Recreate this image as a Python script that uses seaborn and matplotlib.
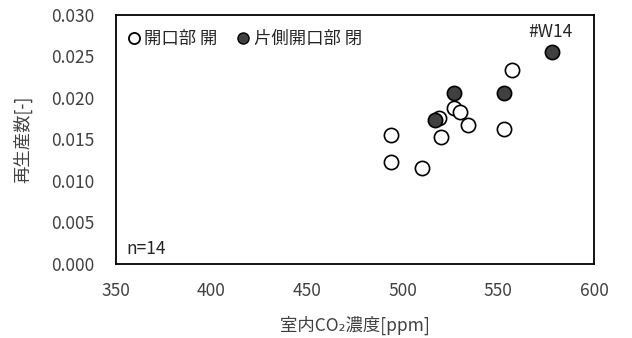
import numpy as np
import pandas as pd
import matplotlib
matplotlib.use("Agg")
import matplotlib.pyplot as plt
import seaborn as sns
from matplotlib.lines import Line2D

# data
open_co2 = [557, 527, 530, 519, 534, 553, 494, 520, 494, 510]
open_r = [0.0234, 0.0188, 0.0183, 0.0176, 0.0167, 0.0163, 0.0155, 0.0153, 0.0123, 0.0115]
closed_co2 = [578, 527, 553, 517]
closed_r = [0.0255, 0.0206, 0.0206, 0.0173]
groups = ["開口部 開", "片側開口部 閉"]

df = pd.concat([
    pd.DataFrame({"co2": open_co2, "r": open_r, "group": groups[0]}),
    pd.DataFrame({"co2": closed_co2, "r": closed_r, "group": groups[1]}),
])

sns.set_style("white")
plt.rcParams['font.family'] = ['Noto Sans CJK JP', 'DejaVu Sans']
fs = 12.5

fig = plt.figure(figsize=(6.32, 3.38), dpi=100)
ax = fig.add_axes([0.183, 0.219, 0.757, 0.737])

sns.scatterplot(data=df[df.group == groups[0]], x="co2", y="r", ax=ax,
                color="white", edgecolor="black", linewidth=1.2, s=105,
                legend=False, zorder=3)
sns.scatterplot(data=df[df.group == groups[1]], x="co2", y="r", ax=ax,
                color="#404040", edgecolor="black", linewidth=1.2, s=105,
                legend=False, zorder=4)

ax.set_xlim(350, 600)
ax.set_ylim(0, 0.030)
ax.set_xticks(np.arange(350, 601, 50))
ax.set_yticks(np.arange(0, 0.0301, 0.005))
ax.set_yticklabels([f"{v:.3f}" for v in np.arange(0, 0.0301, 0.005)])
ax.tick_params(axis="y", length=0, pad=15, labelsize=fs, colors="#404040")
ax.tick_params(axis="x", length=0, pad=13, labelsize=fs, colors="#404040")
for s in ax.spines.values():
    s.set_color("black")
    s.set_linewidth(1.3)

ax.set_xlabel("室内CO₂濃度[ppm]", fontsize=fs, color="#404040", labelpad=11)
ax.set_ylabel("再生産数[-]", fontsize=fs, color="#404040", labelpad=14)

handles = [
    Line2D([], [], marker="o", linestyle="", markerfacecolor="white",
           markeredgecolor="black", markeredgewidth=1.3, markersize=8),
    Line2D([], [], marker="o", linestyle="", markerfacecolor="#404040",
           markeredgecolor="black", markeredgewidth=1.0, markersize=8),
]
leg = ax.legend(handles, groups, loc="upper left", ncol=2, frameon=False,
                handletextpad=0.0, columnspacing=0.9, handlelength=1.2,
                fontsize=fs, bbox_to_anchor=(-0.017, 1.003))
for t in leg.get_texts():
    t.set_color("#262626")

ax.text(closed_co2[0] - 1, closed_r[0] + 0.0013, "#W14", ha="center",
        va="bottom", fontsize=fs, color="#262626")
ax.text(0.022, 0.022, "n=14", transform=ax.transAxes, ha="left",
        va="bottom", fontsize=fs, color="#262626")

fig.savefig("out.png", dpi=100)
